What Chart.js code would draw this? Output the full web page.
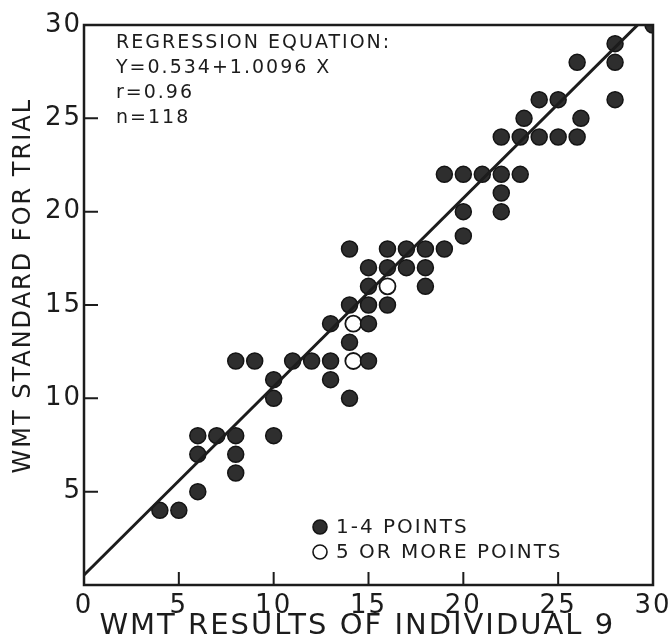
<!DOCTYPE html>
<html>
<head>
<meta charset="utf-8">
<script src="https://cdn.jsdelivr.net/npm/chart.js@4.4.0/dist/chart.umd.min.js"></script>
<style>
  html, body { margin: 0; padding: 0; background: #fff; }
</style>
</head>
<body>
<canvas id="myChart" width="668" height="640"></canvas>
<script>
// points: x = WMT result of individual 9, y = WMT standard
var solidX = [4, 5, 6, 6, 6, 7, 8, 8, 8, 8, 9, 10, 10, 10, 11, 12, 13, 13, 13, 14,
  14, 14, 14, 15, 15, 15, 15, 15, 16, 16, 16, 17, 17, 18, 18, 18, 19, 20, 20, 22,
  22, 19, 20, 21, 22, 23, 22, 23, 24, 25, 26, 23.2, 26.2, 24, 25, 28, 26, 28, 28, 30];
var solidY = [4, 4, 5, 7, 8, 8, 6, 7, 8, 12, 12, 8, 10, 11, 12, 12, 11, 12, 14, 10,
  13, 15, 18, 12, 14, 15, 16, 17, 15, 17, 18, 17, 18, 16, 17, 18, 18, 18.7, 20, 20,
  21, 22, 22, 22, 22, 22, 24, 24, 24, 24, 24, 25, 25, 26, 26, 26, 28, 28, 29, 30];
var hollowX = [14.2, 14.2, 16];
var hollowY = [12, 14, 16];

// regression line Y = 0.534 + 1.0096 X, its two end points
var lineX = [0, 30];
var lineY = [0.534, 30.822];

var axisTicks = [0, 5, 10, 15, 20, 25, 30];
var noteLines = ['REGRESSION EQUATION:', 'Y=0.534+1.0096 X', 'r=0.96', 'n=118'];
var legendLabels = ['1-4 POINTS', '5 OR MORE POINTS'];

var ink = '#1c1c1c';
var family = '"DejaVu Sans", sans-serif';

function toPoints(xs, ys) {
  return xs.map(function (x, i) { return { x: x, y: ys[i] }; });
}

// the original lettering is wide, so space it out a little
var spacing = {
  id: 'spacing',
  beforeLayout: function (chart) { chart.ctx.letterSpacing = '2px'; },
  beforeDraw: function (chart) { chart.ctx.letterSpacing = '2px'; }
};

// box round the plot, inward ticks, the note and the key
var frame = {
  id: 'frame',
  afterDatasetsDraw: function (chart) {
    var ctx = chart.ctx;
    var a = chart.chartArea;
    var xs = chart.scales.x;
    var ys = chart.scales.y;
    ctx.save();
    ctx.strokeStyle = ink;
    ctx.lineWidth = 2.5;
    ctx.strokeRect(a.left, a.top, a.right - a.left, a.bottom - a.top);

    ctx.lineWidth = 2;
    ctx.beginPath();
    axisTicks.forEach(function (t) {
      if (t > 0 && t < 30) {
        var px = xs.getPixelForValue(t);
        ctx.moveTo(px, a.bottom);
        ctx.lineTo(px, a.bottom - 13);
        var py = ys.getPixelForValue(t);
        ctx.moveTo(a.left, py);
        ctx.lineTo(a.left + 14, py);
      }
    });
    ctx.stroke();

    ctx.fillStyle = ink;
    ctx.textBaseline = 'middle';
    ctx.textAlign = 'left';
    ctx.font = '19px ' + family;
    noteLines.forEach(function (txt, i) {
      ctx.fillText(txt, a.left + 32, a.top + 18 + i * 25);
    });

    // key
    var ds = chart.data.datasets;
    ctx.font = '20px ' + family;
    [1, 2].forEach(function (k, i) {
      var cy = a.top + 502 + i * 25;
      var cx = a.left + 236;
      ctx.beginPath();
      ctx.arc(cx, cy, 7, 0, Math.PI * 2);
      ctx.fillStyle = ds[k].backgroundColor;
      ctx.fill();
      ctx.lineWidth = 1.6;
      ctx.strokeStyle = ds[k].borderColor;
      ctx.stroke();
      ctx.fillStyle = ink;
      ctx.fillText(legendLabels[i], cx + 16, cy + 1);
    });
    ctx.restore();
  }
};

var ctx = document.getElementById('myChart').getContext('2d');

var myChart = new Chart(ctx, {
  type: 'scatter',
  data: {
    datasets: [
      {
        label: 'regression',
        type: 'line',
        data: toPoints(lineX, lineY),
        borderColor: ink,
        borderWidth: 3,
        pointRadius: 0,
        fill: false
      },
      {
        label: legendLabels[0],
        data: toPoints(solidX, solidY),
        backgroundColor: '#2e2e2e',
        borderColor: '#141414',
        borderWidth: 1.5,
        pointRadius: 8,
        pointHoverRadius: 8
      },
      {
        label: legendLabels[1],
        data: toPoints(hollowX, hollowY),
        backgroundColor: '#ffffff',
        borderColor: '#141414',
        borderWidth: 1.8,
        pointRadius: 8,
        pointHoverRadius: 8
      }
    ]
  },
  options: {
    responsive: false,
    animation: false,
    layout: { padding: { top: 25, right: 15, left: 0, bottom: 0 } },
    plugins: {
      legend: { display: false },
      tooltip: { enabled: false }
    },
    scales: {
      x: {
        type: 'linear',
        min: 0,
        max: 30,
        afterBuildTicks: function (s) {
          s.ticks = axisTicks.map(function (v) { return { value: v }; });
        },
        grid: { display: false, drawTicks: false, tickLength: 0 },
        border: { display: false },
        ticks: {
          color: ink,
          font: { family: family, size: 26 },
          padding: 6,
          maxRotation: 0,
          autoSkip: false
        },
        title: {
          display: true,
          text: 'WMT RESULTS OF INDIVIDUAL 9  ',
          color: ink,
          font: { family: family, size: 29, lineHeight: 0.95 },
          padding: 0
        },
        afterFit: function (s) {
          s.height = 55;
          s.paddingLeft = 0;
          s.paddingRight = 0;
        }
      },
      y: {
        type: 'linear',
        min: 0,
        max: 30,
        afterBuildTicks: function (s) {
          s.ticks = axisTicks.map(function (v) { return { value: v }; });
        },
        grid: { display: false, drawTicks: false, tickLength: 0 },
        border: { display: false },
        ticks: {
          color: ink,
          font: { family: family, size: 26 },
          padding: 2,
          callback: function (v) { return v === 0 ? '' : v; }
        },
        title: {
          display: true,
          text: '    WMT STANDARD FOR TRIAL',
          color: ink,
          font: { family: family, size: 24 },
          padding: { top: 9, bottom: 0 }
        },
        afterFit: function (s) {
          s.width = 84;
          s.paddingTop = 0;
          s.paddingBottom = 0;
        }
      }
    }
  },
  plugins: [spacing, frame]
});
</script>
</body>
</html>
